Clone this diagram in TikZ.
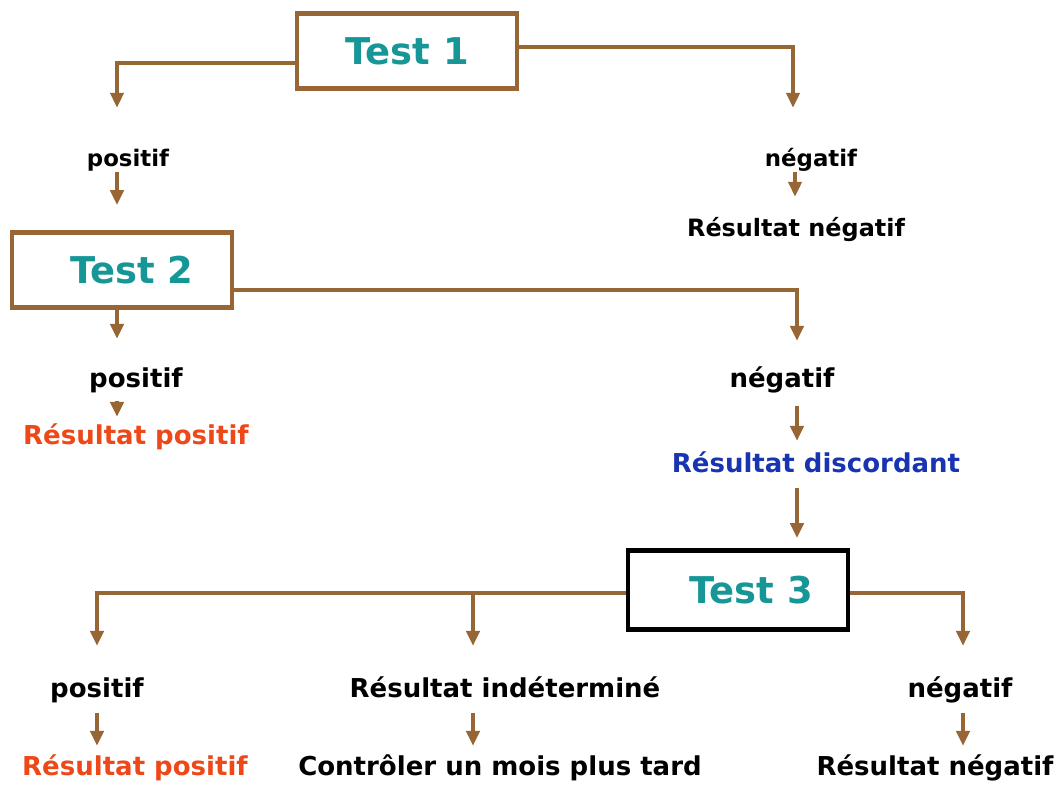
\documentclass[tikz,border=0pt]{standalone}
\usepackage{fontspec}
\setmainfont{DejaVu Sans}
\usetikzlibrary{calc,arrows.meta}

\definecolor{brun}{RGB}{152,102,52}
\definecolor{sarcelle}{RGB}{22,150,150}
\definecolor{rouge}{RGB}{238,72,24}
\definecolor{bleu}{RGB}{24,52,176}

\begin{document}
\begin{tikzpicture}[x=0.02cm, y=-0.02cm,
  >={Triangle[length=8.5pt,width=7.5pt]},
  testbox/.style={draw=brun, line width=2.8pt, minimum width=4.4cm, minimum height=1.5cm, font=\fontsize{21}{25}\selectfont\bfseries, text=sarcelle},
  lbl/.style={inner sep=0pt, text height=11pt, text depth=3.5pt, font=\fontsize{14.8}{17}\selectfont\bfseries},
  lblsmall/.style={inner sep=0pt, text height=10pt, text depth=3pt, font=\fontsize{13}{15}\selectfont\bfseries},
  fleche/.style={->, draw=brun, line width=2.6pt}]

  \useasboundingbox (0,0) rectangle (1058,785);

  % Tests
  \node[testbox] (T1) at (407,51) {Test 1};
  \node[testbox] (T2) at (122,270) {\hspace*{0.4cm}Test 2};
  \node[testbox, draw=black, minimum height=1.58cm] (T3) at (738,590) {\hspace*{0.52cm}Test 3};

  % First level
  \node[lblsmall] (P1) at (128,160) {positif};
  \node[lblsmall] (N1) at (811,160) {négatif};
  \node[lblsmall, font=\fontsize{13.6}{16}\selectfont\bfseries] (RN1) at (796,230) {Résultat négatif};

  % Second level
  \node[lbl] (P2) at (136,381) {positif};
  \node[lbl, text=rouge] (RP2) at (136,438) {Résultat positif};
  \node[lbl] (N2) at (782,381) {négatif};
  \node[lbl, text=bleu] (RD) at (816,466) {Résultat discordant};

  % Third level
  \node[lbl] (P3) at (97,691) {positif};
  \node[lbl] (RI) at (505,691) {Résultat indéterminé};
  \node[lbl] (N3) at (960,691) {négatif};
  \node[lbl, text=rouge] (RP3) at (135,769) {Résultat positif};
  \node[lbl] (CT) at (500,769) {Contrôler un mois plus tard};
  \node[lbl] (RN3) at (935,769) {Résultat négatif};

  \coordinate (bras) at ([yshift=-0.06cm]T3.west);

  % Test 1
  \draw[fleche, shorten >=0.81cm] ([yshift=-0.24cm]T1.west) -| ($(P1.north)+(-11,0)$);
  \draw[fleche, shorten >=0.81cm] ([yshift=0.08cm]T1.east) -| ($(N1.north)+(-18,0)$);
  \draw[fleche, shorten >=0.5cm] ($(P1.south)+(-11,0)$) -- ($(P1.south |- T2.north)+(-11,0)$);
  \draw[fleche, shorten >=0.43cm] ($(N1.south)+(-16,0)$) -- ($(N1.south |- RN1.north)+(-16,0)$);

  % Test 2
  \draw[fleche, shorten >=0.54cm] ([yshift=-0.4cm]T2.east) -| ($(N2.north)+(15,0)$);
  \draw[fleche, shorten >=0.58cm] ($(T2.south)+(-5,0)$) -- ($(T2.south |- P2.north)+(-5,0)$);
  \draw[fleche, shorten <=0.14cm, shorten >=0.16cm] ($(P2.south)+(-19,0)$) -- ($(P2.south |- RP2.north)+(-19,0)$);
  \draw[fleche, shorten <=0.24cm, shorten >=0.24cm] ($(N2.south)+(15,0)$) -- ($(N2.south |- RD.north)+(15,0)$);
  \draw[fleche, shorten <=0.18cm, shorten >=0.2cm] ($(RD.south)+(-19,0)$) -- ($(RD.south |- T3.north)+(-19,0)$);

  % Test 3
  \draw[fleche, shorten >=0.64cm] (bras) -| (P3.north);
  \draw[fleche, shorten >=0.64cm] ($(RI.north |- bras)+(-32,0)$) -- ($(RI.north)+(-32,0)$);
  \draw[fleche, shorten >=0.64cm] ([yshift=-0.06cm]T3.east) -| ($(N3.north)+(3,0)$);
  \draw[fleche, shorten <=0.18cm, shorten >=0.2cm] (P3.south) -- (P3.south |- RP3.north);
  \draw[fleche, shorten <=0.18cm, shorten >=0.2cm] ($(RI.south)+(-32,0)$) -- ($(RI.south |- CT.north)+(-32,0)$);
  \draw[fleche, shorten <=0.18cm, shorten >=0.2cm] ($(N3.south)+(3,0)$) -- ($(N3.south |- RN3.north)+(3,0)$);

\end{tikzpicture}
\end{document}
